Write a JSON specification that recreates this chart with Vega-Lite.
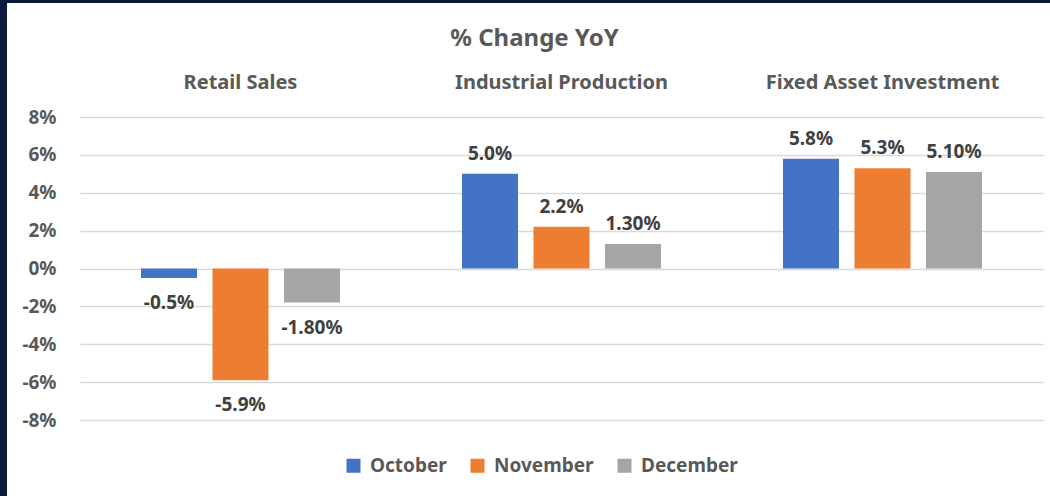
{
  "$schema": "https://vega.github.io/schema/vega-lite/v6.json",
  "background": "white",
  "padding": 0,
  "autosize": {"type": "pad"},
  "config": {
    "font": "Noto Sans",
    "concat": {"spacing": 0},
    "view": {"stroke": null}
  },
  "spacing": 0,
  "vconcat": [
    {
      "width": 1050,
      "height": 3,
      "data": {"values": []},
      "mark": "rect",
      "encoding": {},
      "view": {"fill": "#0b1a3c", "stroke": null}
    },
    {
      "spacing": 0,
      "hconcat": [
        {
          "width": 7,
          "height": 493,
          "data": {"values": []},
          "mark": "rect",
          "encoding": {},
          "view": {"fill": "#0b1a3c", "stroke": null}
        },
        {
          "spacing": 0,
          "vconcat": [
            {
              "width": 10,
              "height": 24,
              "data": {"values": []},
              "mark": "rect",
              "encoding": {}
            },
            {
              "width": 963,
              "height": 303,
              "title": {
                "text": "% Change YoY",
                "font": "Noto Sans",
                "fontSize": 24,
                "fontWeight": "bold",
                "color": "#595959",
                "anchor": "middle",
                "frame": "group",
                "dx": -27,
                "offset": 21
              },
              "data": {
                "values": [
                  {"indicator": "Retail Sales", "month": "October", "value": -0.5, "label": "-0.5%"},
                  {"indicator": "Retail Sales", "month": "November", "value": -5.9, "label": "-5.9%"},
                  {"indicator": "Retail Sales", "month": "December", "value": -1.8, "label": "-1.80%"},
                  {"indicator": "Industrial Production", "month": "October", "value": 5.0, "label": "5.0%"},
                  {"indicator": "Industrial Production", "month": "November", "value": 2.2, "label": "2.2%"},
                  {"indicator": "Industrial Production", "month": "December", "value": 1.3, "label": "1.30%"},
                  {"indicator": "Fixed Asset Investment", "month": "October", "value": 5.8, "label": "5.8%"},
                  {"indicator": "Fixed Asset Investment", "month": "November", "value": 5.3, "label": "5.3%"},
                  {"indicator": "Fixed Asset Investment", "month": "December", "value": 5.1, "label": "5.10%"}
                ]
              },
              "encoding": {
                "x": {
                  "field": "indicator",
                  "type": "nominal",
                  "sort": ["Retail Sales", "Industrial Production", "Fixed Asset Investment"],
                  "scale": {"paddingInner": 0, "paddingOuter": 0},
                  "axis": {
                    "orient": "top",
                    "title": null,
                    "ticks": false,
                    "domain": false,
                    "labelAngle": 0,
                    "labelLimit": 0,
                    "labelFont": "Noto Sans",
                    "labelFontSize": 20,
                    "labelFontWeight": "bold",
                    "labelColor": "#595959",
                    "labelPadding": 25
                  }
                },
                "xOffset": {
                  "field": "month",
                  "type": "nominal",
                  "sort": ["October", "November", "December"],
                  "scale": {"paddingInner": 0.2168, "paddingOuter": 0.853}
                },
                "y": {
                  "field": "value",
                  "type": "quantitative",
                  "scale": {"domain": [-8, 8], "nice": false},
                  "axis": {
                    "title": null,
                    "values": [-8, -6, -4, -2, 0, 2, 4, 6, 8],
                    "labelExpr": "datum.value + '%'",
                    "ticks": false,
                    "domain": false,
                    "grid": true,
                    "gridColor": "#d9d9d9",
                    "gridWidth": 1.5,
                    "labelFont": "Noto Sans",
                    "labelFontSize": 19,
                    "labelFontWeight": "bold",
                    "labelColor": "#595959",
                    "labelPadding": 24,
                    "minExtent": 73,
                    "maxExtent": 73
                  }
                }
              },
              "layer": [
                {
                  "mark": {"type": "bar"},
                  "encoding": {
                    "color": {
                      "field": "month",
                      "type": "nominal",
                      "sort": ["October", "November", "December"],
                      "scale": {
                        "domain": ["October", "November", "December"],
                        "range": ["#4472c4", "#ed7d31", "#a5a5a5"]
                      },
                      "legend": {
                        "title": null,
                        "orient": "none",
                        "direction": "horizontal",
                        "legendX": 344,
                        "legendY": 456,
                        "symbolType": "square",
                        "symbolSize": 196,
                        "symbolStrokeWidth": 0,
                        "labelFont": "Noto Sans",
                        "labelFontSize": 19,
                        "labelFontWeight": "bold",
                        "labelColor": "#595959",
                        "labelOffset": 7,
                        "columnPadding": 21
                      }
                    }
                  }
                },
                {
                  "transform": [{"filter": "datum.value >= 0"}],
                  "mark": {
                    "type": "text",
                    "dy": -20,
                    "baseline": "middle",
                    "font": "Noto Sans",
                    "fontSize": 19,
                    "fontWeight": "bold",
                    "color": "#404040"
                  },
                  "encoding": {"text": {"field": "label", "type": "nominal"}}
                },
                {
                  "transform": [{"filter": "datum.value < 0"}],
                  "mark": {
                    "type": "text",
                    "dy": 25,
                    "baseline": "middle",
                    "font": "Noto Sans",
                    "fontSize": 19,
                    "fontWeight": "bold",
                    "color": "#404040"
                  },
                  "encoding": {"text": {"field": "label", "type": "nominal"}}
                }
              ]
            }
          ]
        }
      ]
    }
  ]
}
